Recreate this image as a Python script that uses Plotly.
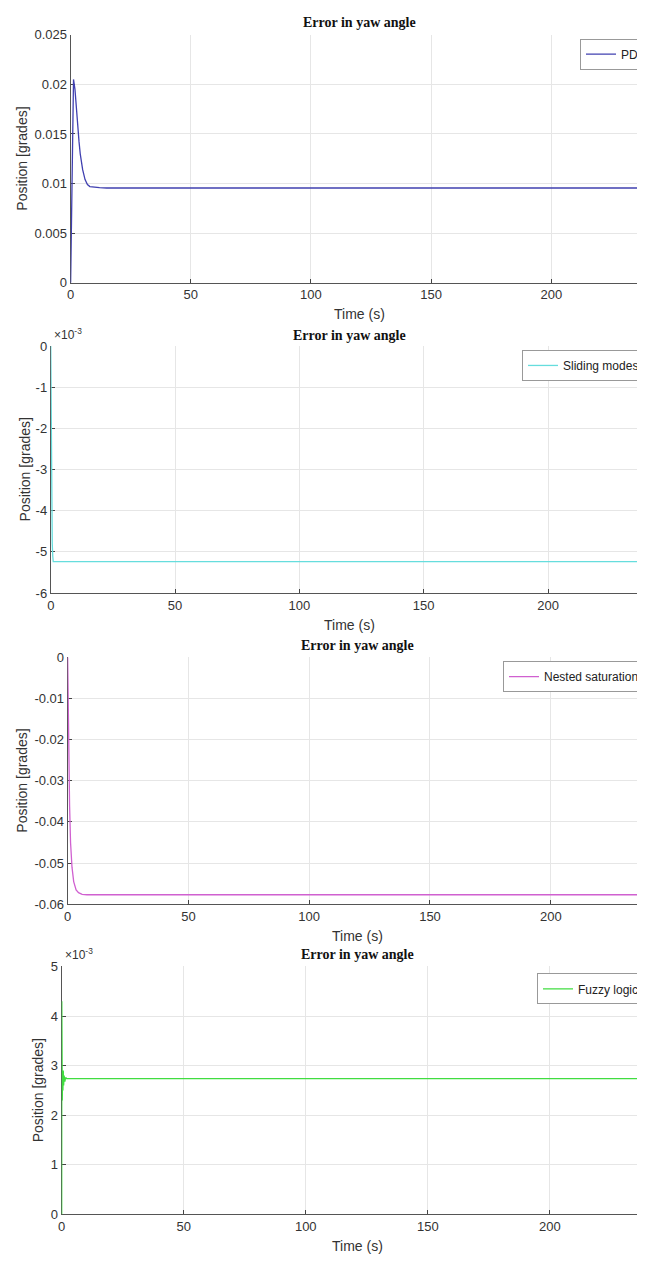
import plotly.graph_objects as go

# page body has an 8px default margin; lay out everything in page pixels
OFF = 8
W, H = 645 - OFF, 1261 - OFF

# ---------------- data ----------------
pd_t = [0, 0.4, 0.8, 1.2, 1.8, 2.5, 3.0, 3.5, 4.0, 5.0, 6.0, 7.0, 8.0, 10, 12, 15, 20, 240]
pd_y = [0, 0.009, 0.017, 0.0205, 0.0195, 0.017, 0.0155, 0.0142, 0.013, 0.0114, 0.0104,
        0.0099, 0.0097, 0.00962, 0.00958, 0.00955, 0.00955, 0.00955]

sm_t = [0, 0.2, 0.4, 0.6, 0.8, 1.0, 240]
sm_y = [0, -0.0022, -0.0038, -0.0048, -0.0051, -0.00524, -0.00524]

ns_t = [0, 0.2, 0.5, 0.8, 1.2, 1.8, 2.5, 3.5, 4.5, 6, 8, 240]
ns_y = [0, -0.012, -0.025, -0.036, -0.045, -0.051, -0.0545, -0.0565, -0.0572, -0.0576, -0.0577, -0.0577]

fz_t = [0, 0.05, 0.15, 0.25, 0.35, 0.5, 0.65, 0.8, 1.0, 1.3, 1.6, 2.0, 240]
fz_y = [0, 0.0043, 0.0036, 0.0023, 0.0029, 0.0025, 0.0029, 0.0026, 0.0028, 0.00268, 0.00276, 0.00274, 0.00274]

names = ["PD", "Sliding modes", "Nested saturation", "Fuzzy logic"]
colors = ["#4040b0", "#66dddd", "#d060d0", "#40dd40"]
x_ticks = [0, 50, 100, 150, 200]
y_ticks = [
    [0, 0.005, 0.01, 0.015, 0.02, 0.025],
    [0, -0.001, -0.002, -0.003, -0.004, -0.005, -0.006],
    [0, -0.01, -0.02, -0.03, -0.04, -0.05, -0.06],
    [0, 0.001, 0.002, 0.003, 0.004, 0.005],
]
y_ticktext = [
    ["0", "0.005", "0.01", "0.015", "0.02", "0.025"],
    ["0", "-1", "-2", "-3", "-4", "-5", "-6"],
    ["0", "-0.01", "-0.02", "-0.03", "-0.04", "-0.05", "-0.06"],
    ["0", "1", "2", "3", "4", "5"],
]
y_ranges = [[0, 0.025], [-0.006, 0], [-0.06, 0], [0, 0.005]]
title_text = "Error in yaw angle"
x_title = "Time (s)"
y_title = "Position [grades]"

# ---------------- layout (page pixels) ----------------
# (left, top, bottom, title y, title x, ylabel x, legend top)
panels = [
    (67, 28, 279, 16, 358, 18, 32),
    (47, 343, 593, 332, 348, 22, 347),
    (64, 658, 908, 646, 356, 18, 662),
    (58, 971, 1222, 959, 356, 35, 978),
]

def px(x):
    return (x - OFF) / W

def py(y):
    return 1 - (y - OFF) / H

SANS = "Liberation Sans, Arial, Helvetica"
fig = go.Figure()
series = [(pd_t, pd_y), (sm_t, sm_y), (ns_t, ns_y), (fz_t, fz_y)]
annotations = []
layout = {}
for i, ((t, y), (l, top, bot, ty, tx, ylx, lgt)) in enumerate(zip(series, panels)):
    n = "" if i == 0 else str(i + 1)
    leg = "legend" if i == 0 else f"legend{i + 1}"
    fig.add_trace(go.Scatter(
        x=t, y=y, mode="lines", name=names[i],
        line=dict(color=colors[i], width=1.3),
        xaxis=f"x{n}", yaxis=f"y{n}", legend=leg,
    ))
    common = dict(
        ticks="inside", ticklen=4, tickcolor="#444",
        showgrid=True, gridcolor="#e6e6e6", gridwidth=1,
        showline=True, linecolor="#555", linewidth=1,
        zeroline=False, layer="below traces",
        tickfont=dict(family=SANS, size=13, color="#333"),
    )
    layout[f"xaxis{n}"] = dict(
        domain=[px(l), 1], range=[0, 239], anchor=f"y{n}",
        tickvals=x_ticks, **common,
    )
    layout[f"yaxis{n}"] = dict(
        domain=[py(bot), py(top)], range=y_ranges[i], anchor=f"x{n}",
        tickvals=y_ticks[i], ticktext=y_ticktext[i], **common,
    )
    layout[leg] = dict(
        x=1, xanchor="right", y=py(lgt), yanchor="top",
        bgcolor="white", bordercolor="#999", borderwidth=1,
        font=dict(family=SANS, size=12, color="#222"),
        itemwidth=30, tracegroupgap=0,
    )
    annotations.append(dict(
        text=f"<b>{title_text}</b>", x=px(tx), y=py(ty), xref="paper", yref="paper",
        showarrow=False, xanchor="center", yanchor="middle",
        font=dict(family="Liberation Serif, Times New Roman", size=14, color="#111"),
    ))
    annotations.append(dict(
        text=x_title, x=px(tx), y=py(bot + 32), xref="paper", yref="paper",
        showarrow=False, xanchor="center", yanchor="middle",
        font=dict(family=SANS, size=14, color="#333"),
    ))
    annotations.append(dict(
        text=y_title, x=px(ylx), y=py((top + bot) / 2), xref="paper", yref="paper",
        showarrow=False, xanchor="center", yanchor="middle", textangle=-90,
        font=dict(family=SANS, size=14, color="#333"),
    ))
    if i in (1, 3):
        annotations.append(dict(
            text="×10<sup>-3</sup>", x=px(l + 1), y=py(top - 2), xref="paper", yref="paper",
            showarrow=False, xanchor="left", yanchor="bottom",
            font=dict(family=SANS, size=12, color="#333"),
        ))

fig.update_layout(
    width=W, height=H,
    margin=dict(l=0, r=0, t=0, b=0),
    paper_bgcolor="white", plot_bgcolor="white",
    showlegend=True,
    annotations=annotations,
    **layout,
)

fig.write_html("out.html")
